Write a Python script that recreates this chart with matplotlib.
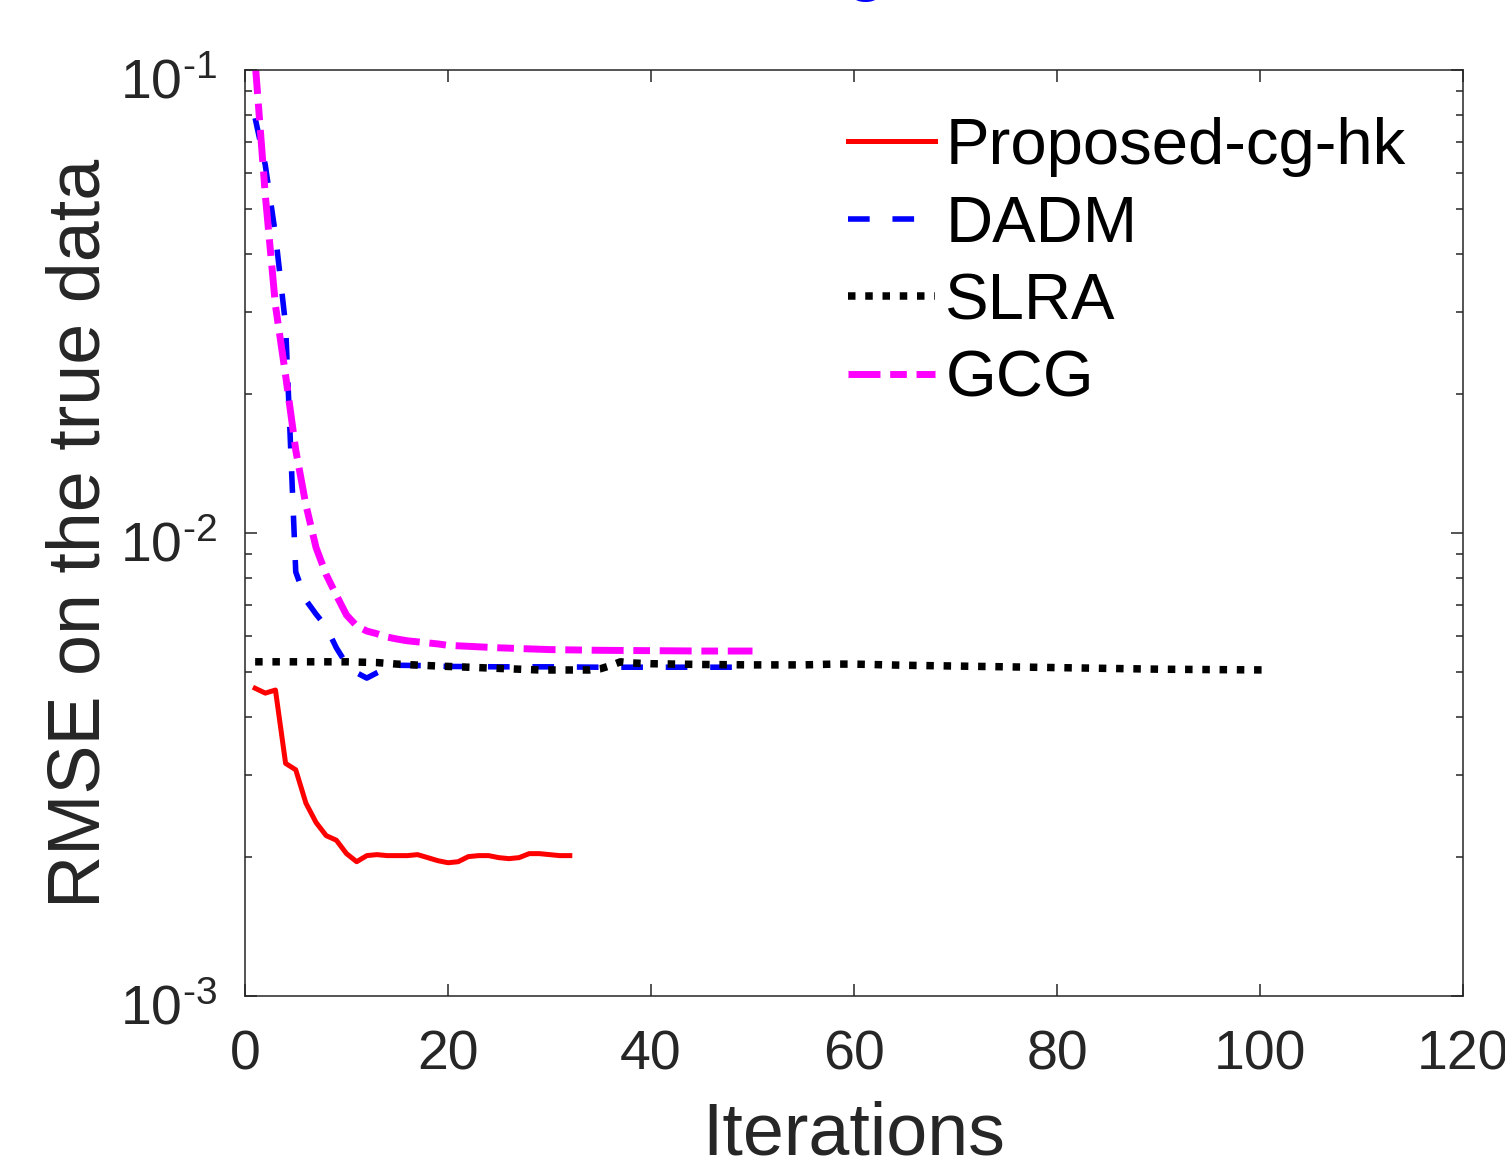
import numpy as np
import matplotlib
matplotlib.use("Agg")
import matplotlib.pyplot as plt
import matplotlib.transforms as mtransforms
from matplotlib.ticker import LogLocator, NullFormatter, FixedLocator, FixedFormatter

plt.rcParams['font.family'] = ['Liberation Sans', 'DejaVu Sans']
plt.rcParams['mathtext.fontset'] = 'custom'
plt.rcParams['mathtext.rm'] = 'Liberation Sans'

# Proposed-cg-hk (linha vermelha)
it_prop = list(range(1, 33))
rmse_prop = [4.62e-3, 4.51e-3, 4.58e-3, 3.18e-3, 3.08e-3, 2.61e-3, 2.37e-3, 2.22e-3,
             2.17e-3, 2.03e-3, 1.95e-3, 2.01e-3, 2.02e-3, 2.01e-3, 2.01e-3, 2.01e-3,
             2.02e-3, 1.99e-3, 1.96e-3, 1.94e-3, 1.95e-3, 2.00e-3, 2.01e-3, 2.01e-3,
             1.99e-3, 1.98e-3, 1.99e-3, 2.03e-3, 2.03e-3, 2.02e-3, 2.01e-3, 2.01e-3]

# DADM
it_dadm = [1, 2, 3, 4, 5, 6, 7, 8, 9, 10, 11, 12, 13, 14, 15, 18, 20, 25, 30, 35, 40, 45, 50]
rmse_dadm = [0.0787, 0.0623, 0.0441, 0.0281, 8.24e-3, 7.16e-3, 6.68e-3, 6.27e-3, 5.65e-3,
             5.21e-3, 4.99e-3, 4.86e-3, 4.99e-3, 5.11e-3, 5.18e-3, 5.17e-3, 5.15e-3,
             5.14e-3, 5.14e-3, 5.13e-3, 5.13e-3, 5.13e-3, 5.13e-3]

# SLRA
it_slra = [1, 5, 10, 13, 15, 19, 24, 29, 34, 35, 36, 37, 38, 40, 45, 50, 55, 58, 60,
           65, 70, 75, 80, 85, 90, 95, 101]
rmse_slra = [5.27e-3, 5.27e-3, 5.27e-3, 5.25e-3, 5.21e-3, 5.16e-3, 5.11e-3, 5.06e-3,
             5.06e-3, 5.09e-3, 5.17e-3, 5.27e-3, 5.24e-3, 5.22e-3, 5.20e-3, 5.19e-3,
             5.19e-3, 5.21e-3, 5.21e-3, 5.18e-3, 5.16e-3, 5.14e-3, 5.12e-3, 5.10e-3,
             5.08e-3, 5.07e-3, 5.06e-3]

# GCG
it_gcg = [1, 2, 3, 4, 5, 6, 7, 8, 9, 10, 11, 12, 13, 14, 15, 16, 17, 18, 19, 20,
          25, 30, 35, 40, 45, 50]
rmse_gcg = [0.104, 0.0537, 0.031, 0.0219, 0.0151, 0.0115, 9.3e-3, 8.13e-3, 7.34e-3,
            6.65e-3, 6.30e-3, 6.14e-3, 6.06e-3, 5.96e-3, 5.90e-3, 5.85e-3, 5.82e-3,
            5.79e-3, 5.76e-3, 5.72e-3, 5.65e-3, 5.60e-3, 5.58e-3, 5.57e-3, 5.56e-3, 5.56e-3]

x_ticks = [0, 20, 40, 60, 80, 100, 120]
y_ticks = [1e-3, 1e-2, 1e-1]
y_labels = [r'$\mathdefault{10^{\text{-}3}}$', r'$\mathdefault{10^{\text{-}2}}$',
            r'$\mathdefault{10^{\text{-}1}}$']

fig = plt.figure(figsize=(15.05, 11.66), dpi=100)
ax = fig.add_axes([245 / 1505, 1 - 996 / 1166, (1463 - 245) / 1505, (996 - 70) / 1166])

ax.plot(it_prop, rmse_prop, color='#ff0000', lw=3.6, label='Proposed-cg-hk')
ax.plot(it_dadm, rmse_dadm, color='#0000ff', lw=4, dashes=(3.9, 4.1), label='DADM')
ax.plot(it_slra, rmse_slra, color='black', lw=5.4, dashes=(1, 1.3), dash_capstyle='butt',
        label='SLRA')
ax.plot(it_gcg, rmse_gcg, color='#ff00ff', lw=5, dashes=(4.6, 1.4, 2.4, 1.4), label='GCG')

ax.set_yscale('log')
ax.set_xlim(0, 120)
ax.set_ylim(1e-3, 1e-1)
ax.xaxis.set_major_locator(FixedLocator(x_ticks))
ax.yaxis.set_major_locator(FixedLocator(y_ticks))
ax.yaxis.set_major_formatter(FixedFormatter(y_labels))
ax.yaxis.set_minor_locator(LogLocator(base=10, subs=np.arange(2, 10), numticks=20))
ax.yaxis.set_minor_formatter(NullFormatter())

cinza = '#262626'
for s in ax.spines.values():
    s.set_color(cinza)
    s.set_linewidth(1.1)
ax.tick_params(which='both', direction='in', top=True, right=True, color=cinza,
               labelcolor=cinza, width=1.1)
ax.tick_params(which='major', length=8.6, labelsize=40)
ax.tick_params(which='minor', length=5)
ax.tick_params(axis='x', pad=24)
ax.tick_params(axis='y', pad=20)

# desce um pouco os rotulos do eixo y
desloc = mtransforms.ScaledTranslation(0, -6 / 72, fig.dpi_scale_trans)
for lab in ax.get_yticklabels():
    lab.set_transform(lab.get_transform() + desloc)

ax.set_xlabel('Iterations', fontsize=53, color=cinza, labelpad=14)
ax.set_ylabel('RMSE on the true data', fontsize=53, color=cinza, labelpad=4)

leg = ax.legend(loc='upper left', bbox_to_anchor=(848 / 1505, 1 - 117 / 1166),
                bbox_transform=fig.transFigure, frameon=False, fontsize=47,
                handlelength=1.34, handletextpad=0.15, borderpad=0, labelspacing=0.27,
                borderaxespad=0)

# titulo cortado no topo (so aparece a parte de baixo)
fig.text(866 / 1505, 1 + 14 / 1166, 'g', color='#0000ff', fontsize=55,
         ha='center', va='baseline')

fig.savefig('out.png', dpi=100)
